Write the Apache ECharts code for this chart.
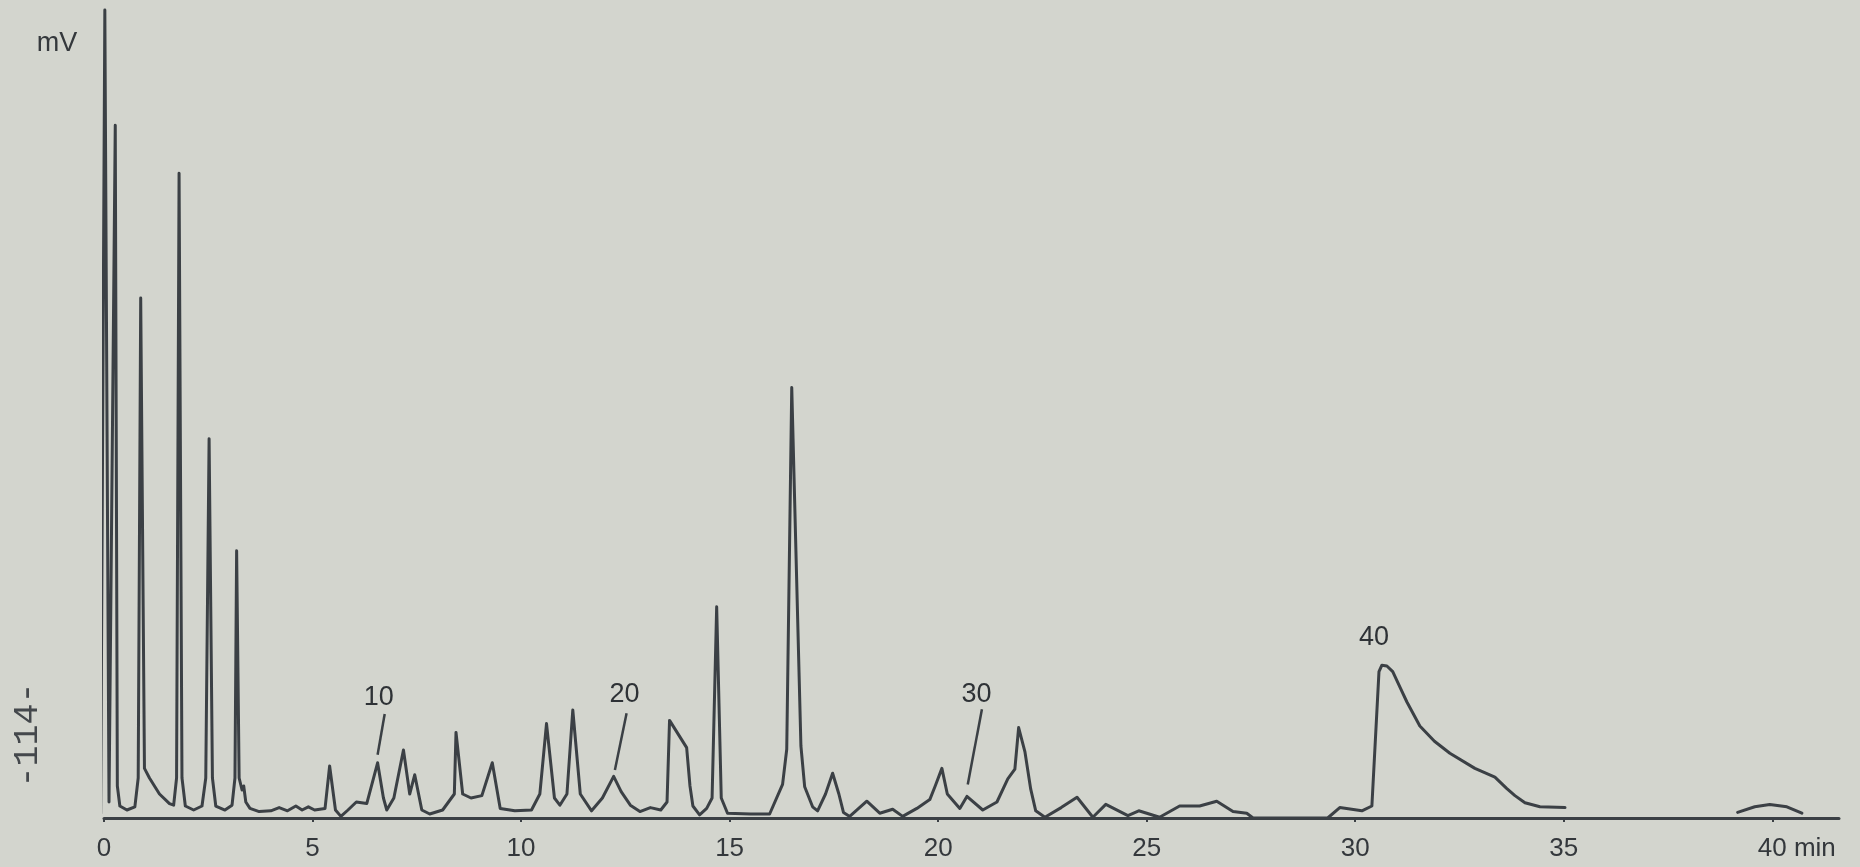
<!DOCTYPE html>
<html>
<head>
<meta charset="utf-8">
<title>Chromatogram</title>
<script src="https://cdn.jsdelivr.net/npm/echarts@6/dist/echarts.min.js"></script>
<style>
  html, body { margin: 0; padding: 0; background: #d3d5ce; }
  #chart { width: 1860px; height: 867px; }
</style>
</head>
<body>
<div id="chart"></div>
<script>
// retention time (min) and detector signal
const retentionTime = [
  -0.08, 0.02, 0.12, 0.16, 0.27, 0.32, 0.38, 0.55, 0.74, 0.82, 0.88, 0.97, 1.09, 1.33, 1.57, 1.67,
  1.74, 1.80, 1.87, 1.95, 2.15, 2.35, 2.44, 2.52, 2.60, 2.68, 2.90, 3.07, 3.14, 3.18, 3.24, 3.31,
  3.35, 3.40, 3.50, 3.72, 4.00, 4.20, 4.40, 4.60, 4.75, 4.90, 5.05, 5.30, 5.41, 5.55, 5.68, 5.85,
  6.05, 6.30, 6.56, 6.70, 6.78, 6.95, 7.18, 7.33, 7.45, 7.62, 7.81, 8.12, 8.40, 8.44, 8.60, 8.80,
  9.06, 9.31, 9.50, 9.85, 10.25, 10.45, 10.61, 10.80, 10.93, 11.10, 11.24, 11.42, 11.69, 11.95,
  12.22, 12.40, 12.62, 12.85, 13.10, 13.35, 13.50, 13.56, 13.97, 14.05, 14.12, 14.28, 14.45,
  14.58, 14.69, 14.80, 14.95, 15.50, 15.96, 16.27, 16.37, 16.49, 16.71, 16.80, 16.99,
  17.11, 17.30, 17.47, 17.62, 17.73, 17.88, 18.29, 18.60, 18.91, 19.15, 19.49, 19.80, 19.93,
  20.09, 20.22, 20.52, 20.69, 21.07, 21.41, 21.67, 21.84, 21.93, 22.08, 22.22, 22.34, 22.56,
  22.95, 23.33, 23.71, 24.02, 24.55, 24.81, 25.31, 25.79, 26.27, 26.68, 27.07, 27.40, 27.55,
  28.67, 29.34, 29.63, 30.16, 30.40, 30.57, 30.64, 30.76, 30.90, 31.07, 31.24, 31.55, 31.90,
  32.27, 32.87, 33.35, 33.63, 33.83, 34.07, 34.43, 35.03, 35.50, 39.17, 39.58, 39.94, 40.35, 40.71
]
const signal = [
  0.6, 101, 2.0, 1.8, 86.6, 4.0, 1.5, 1.0, 1.4, 5.0, 65.0, 6.2, 5.0, 3.0, 1.8, 1.6,
  5.0, 80.6, 5.0, 1.5, 1.0, 1.5, 5.0, 47.4, 5.0, 1.5, 1.0, 1.6, 5.0, 33.4, 5.0, 3.5,
  4.0, 2.0, 1.2, 0.8, 0.9, 1.3, 0.9, 1.5, 1.0, 1.4, 1.0, 1.2, 6.5, 1.0, 0.2, 1.0,
  2.0, 1.8, 6.9, 2.5, 1.0, 2.5, 8.5, 3.0, 5.4, 1.0, 0.5, 1.0, 3.0, 10.7, 3.0, 2.5,
  2.8, 6.9, 1.2, 0.9, 1.0, 3.0, 11.8, 2.5, 1.6, 3.0, 13.5, 3.0, 0.9, 2.5,
  5.2, 3.3, 1.6, 0.8, 1.3, 1.0, 2.0, 12.2, 8.8, 4.0, 1.5, 0.4, 1.2,
  2.5, 26.4, 2.5, 0.6, 0.5, 0.5, 4.2, 8.6, 53.8, 9.0, 3.9, 1.4,
  0.9, 3.0, 5.6, 3.0, 0.7, 0.2, 2.1, 0.6, 1.1, 0.2, 1.2, 2.3, 4.0,
  6.2, 3.0, 1.2, 2.7, 1.0, 2.0, 4.9, 6.1, 11.3, 8.3, 3.6, 0.9, 0.1,
  1.3, 2.6, 0.1, 1.7, 0.3, 0.9, 0.1, 1.5, 1.5, 2.1, 0.8, 0.6, 0.0,
  0.0, 0.0, 1.3, 0.9, 1.5, 18.3, 19.1, 19.0, 18.3, 16.4, 14.5, 11.5, 9.6,
  8.1, 6.2, 5.1, 3.7, 2.8, 1.9, 1.4, 1.3, null, 0.7, 1.4, 1.7, 1.4, 0.6
]

// peak numbers written on the chart and their leader lines
const peakNames = ['10', '20', '30', '40']
const peakLabelTime = [6.59, 12.48, 20.92, 30.45]
const peakLabelSignal = [15.0, 15.4, 15.4, 22.6]
const leaderFrom = [[6.73, 13.0], [12.53, 13.1], [21.05, 13.6]]
const leaderTo = [[6.56, 7.9], [12.25, 6.0], [20.71, 4.2]]

const xTicks = [0, 5, 10, 15, 20, 25, 30, 35, 40]
const ink = '#3b4045'

const chart = echarts.init(document.getElementById('chart'))
chart.setOption({
  backgroundColor: '#d3d5ce',
  animation: false,
  grid: { left: 104, right: 21, top: 10, bottom: 49 },
  xAxis: {
    type: 'value',
    min: 0,
    max: 41.6,
    interval: 5,
    axisLine: { show: true, lineStyle: { color: ink, width: 3 } },
    axisTick: { show: true, length: 4, lineStyle: { color: ink, width: 2 } },
    splitLine: { show: false },
    axisLabel: {
      showMaxLabel: false,
      margin: 18,
      color: '#34383c',
      fontFamily: 'Liberation Sans',
      fontSize: 26,
      formatter: function(v) {
        if (xTicks.indexOf(v) < 0) return ''
        return v === 40 ? '{p|}40 min' : String(v)
      },
      rich: { p: { width: 49 } }
    }
  },
  yAxis: {
    type: 'value',
    min: 0,
    max: 101,
    axisLine: { show: false },
    axisTick: { show: false },
    axisLabel: { show: false },
    splitLine: { show: false }
  },
  graphic: [
    {
      type: 'text',
      x: 57,
      y: 44,
      style: { text: 'mV', font: '27px "Liberation Sans"', fill: '#34383c', align: 'center', verticalAlign: 'middle' }
    },
    {
      type: 'text',
      x: 28,
      y: 735,
      rotation: Math.PI / 2,
      style: { text: '-114-', font: '35px "Liberation Mono"', fill: '#44484c', align: 'center', verticalAlign: 'middle' }
    }
  ],
  series: [
    {
      type: 'line',
      clip: false,
      showSymbol: false,
      connectNulls: false,
      lineStyle: { color: ink, width: 3, join: 'round', cap: 'round' },
      data: retentionTime.map((t, i) => [t, signal[i]]),
      markLine: {
        silent: true,
        symbol: ['none', 'none'],
        label: { show: false },
        lineStyle: { color: ink, width: 2.5, type: 'solid' },
        data: leaderFrom.map((p, i) => [{ coord: p }, { coord: leaderTo[i] }])
      }
    },
    {
      type: 'scatter',
      symbolSize: 0,
      silent: true,
      itemStyle: { opacity: 1 },
      label: {
        show: true,
        position: 'inside',
        formatter: '{b}',
        color: '#2e3236',
        fontFamily: 'Liberation Sans',
        fontSize: 27
      },
      data: peakNames.map((n, i) => ({ name: n, value: [peakLabelTime[i], peakLabelSignal[i]] }))
    }
  ]
})
</script>
</body>
</html>
